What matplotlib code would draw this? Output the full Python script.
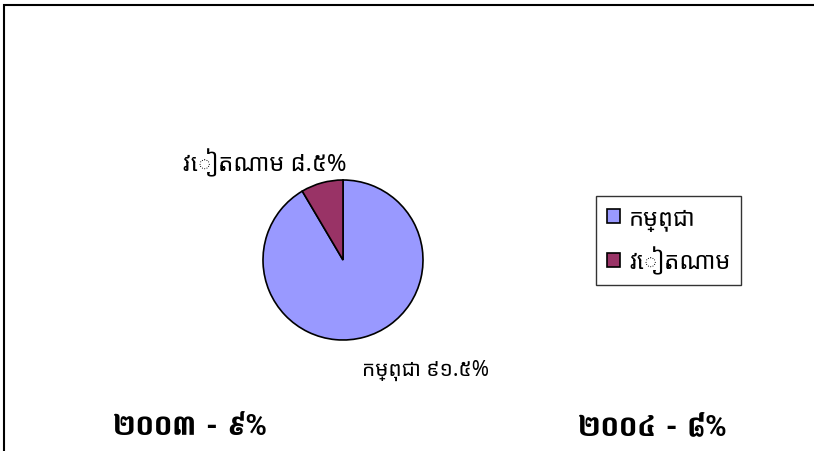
import matplotlib
matplotlib.use("Agg")
import matplotlib.pyplot as plt
from matplotlib.patches import Rectangle

plt.rcParams["font.family"] = ["Noto Sans Khmer", "Khmer", "DejaVu Sans"]

countries = ["កម្ពុជា", "វៀតណាម"]
shares = [91.5, 8.5]
share_labels = ["កម្ពុជា ៩១.៥%", "វៀតណាម ៨.៥%"]
colors = ["#9999FF", "#993366"]
year_notes = ["២០០៣ - ៩%", "២០០៤ - ៨%"]

W, H = 814, 452
fig = plt.figure(figsize=(W / 100, H / 100), dpi=100)

# outer frame (left and top edges show, rest is cut off)
fig.patches.append(Rectangle((4 / W, -0.1), 1.2, (H - 6) / H + 0.1,
                             transform=fig.transFigure, fill=False,
                             edgecolor="black", linewidth=1.5))

# pie: centre (343, 261) px, radius 80 px
cx, cy, r = 343, 261, 80
ax = fig.add_axes([(cx - r) / W, (H - cy - r) / H, 2 * r / W, 2 * r / H])
wedges, _ = ax.pie(shares, colors=colors, startangle=90, counterclock=False,
                   wedgeprops=dict(edgecolor="black", linewidth=1.2))
ax.set_xlim(-1, 1)
ax.set_ylim(-1, 1)
ax.set_aspect("auto")

fig.text(362 / W, 1 - 370 / H, share_labels[0], fontsize=15, va="center", ha="left")
fig.text(183 / W, 1 - 163 / H, share_labels[1], fontsize=17, va="center", ha="left")

leg = fig.legend(wedges, countries, loc="upper left",
                 bbox_to_anchor=(596 / W, 1 - 197 / H), fontsize=17,
                 frameon=True, fancybox=False, edgecolor="black",
                 handlelength=0.55, handleheight=0.55, handletextpad=0.4,
                 borderaxespad=0, borderpad=0.45, labelspacing=0.65)
leg.get_frame().set_linewidth(1.0)

bold_fam = ["Suwannaphum", "DejaVu Sans"]
fig.text(113 / W, 1 - 427 / H, year_notes[0], fontsize=21, fontweight="bold",
         family=bold_fam, va="center", ha="left")
fig.text(578 / W, 1 - 427 / H, year_notes[1], fontsize=21, fontweight="bold",
         family=bold_fam, va="center", ha="left")

fig.savefig("out.png", dpi=100)
